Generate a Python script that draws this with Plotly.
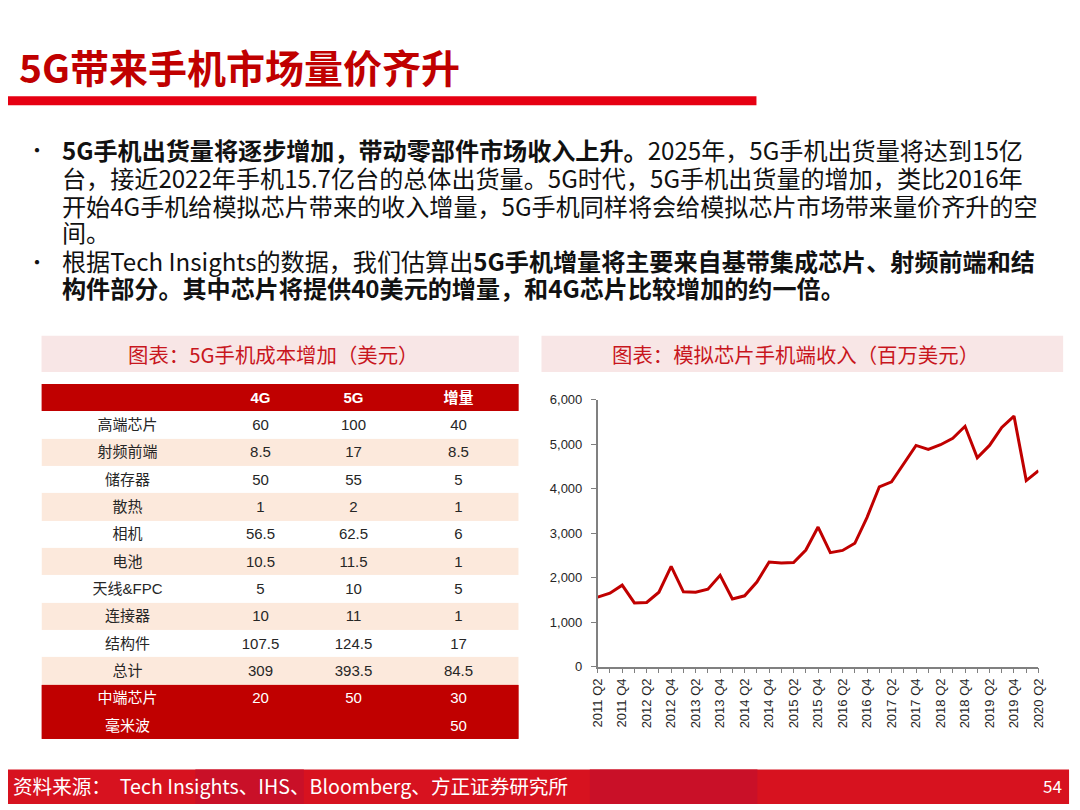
import plotly.graph_objects as go

# ---------------- data ----------------
items = ['高端芯片', '射频前端', '储存器', '散热', '相机', '电池', '天线&FPC', '连接器', '结构件', '总计', '中端芯片', '毫米波']
cost_4g = [60, 8.5, 50, 1, 56.5, 10.5, 5, 10, 107.5, 309, 20, None]
cost_5g = [100, 17, 55, 2, 62.5, 11.5, 10, 11, 124.5, 393.5, 50, None]
increase = [40, 8.5, 5, 1, 6, 1, 5, 1, 17, 84.5, 30, 50]
table_header = ['', '4G', '5G', '增量']

quarters = ['2011 Q2', '2011 Q3', '2011 Q4', '2012 Q1', '2012 Q2', '2012 Q3', '2012 Q4',
            '2013 Q1', '2013 Q2', '2013 Q3', '2013 Q4', '2014 Q1', '2014 Q2', '2014 Q3',
            '2014 Q4', '2015 Q1', '2015 Q2', '2015 Q3', '2015 Q4', '2016 Q1', '2016 Q2',
            '2016 Q3', '2016 Q4', '2017 Q1', '2017 Q2', '2017 Q3', '2017 Q4', '2018 Q1',
            '2018 Q2', '2018 Q3', '2018 Q4', '2019 Q1', '2019 Q2', '2019 Q3', '2019 Q4',
            '2020 Q1', '2020 Q2']
revenue = [1560, 1650, 1830, 1430, 1440, 1670, 2250, 1680, 1670, 1740, 2050, 1520, 1590,
           1900, 2350, 2330, 2340, 2620, 3135, 2560, 2610, 2770, 3355, 4040, 4150, 4570,
           4970, 4880, 4985, 5130, 5400, 4690, 4970, 5375, 5630, 4180, 4400]

W, H = 1080, 810
def px(x):
    return x / W
def py(y):
    return 1 - y / H

RED = '#C00000'
PEACH = '#FCE9DC'
CJK = 'Noto Sans CJK SC'
ARIAL = 'Liberation Sans, Noto Sans CJK SC'

def fmt(v):
    return '' if v is None else f'{v:g}'

fig = go.Figure()

# ---------------- table (heatmap cells) ----------------
# fill codes: 0 white, 1 peach, 2 red
n = len(items)
codes = [2]
for i in range(n):
    codes.append(2 if i >= n - 2 else (1 if i % 2 == 1 else 0))
rows_text = [table_header] + [[items[i].replace('&', '&amp;'), fmt(cost_4g[i]),
                               fmt(cost_5g[i]), fmt(increase[i])] for i in range(n)]
col_edges = [0, 174, 270, 362, 484]
row_edges = list(range(n + 2))

z_all = [[c] * 4 for c in codes]
text_dark = [[t if c != 2 else '' for t in r] for r, c in zip(rows_text, codes)]
z_red = [[c if c == 2 else None] * 4 for c in codes]
text_red = []
for k, (r, c) in enumerate(zip(rows_text, codes)):
    if c == 2:
        text_red.append(['<b>%s</b>' % t if (k == 0 and t) else t for t in r])
    else:
        text_red.append([''] * 4)

cscale = [[0, 'white'], [0.33, 'white'], [0.34, PEACH], [0.66, PEACH], [0.67, RED], [1, RED]]
fig.add_trace(go.Heatmap(
    z=z_all, x=col_edges, y=row_edges, text=text_dark, texttemplate='%{text}',
    textfont=dict(family=ARIAL, size=15, color='#262626'),
    colorscale=cscale, zmin=0, zmax=2, showscale=False, hoverinfo='skip',
    xaxis='x2', yaxis='y2',
))
fig.add_trace(go.Heatmap(
    z=z_red, x=col_edges, y=row_edges, text=text_red, texttemplate='%{text}',
    textfont=dict(family=ARIAL, size=15, color='white'),
    colorscale=cscale, zmin=0, zmax=2, showscale=False, hoverinfo='skip',
    xaxis='x2', yaxis='y2',
))

# ---------------- line chart ----------------
fig.add_trace(go.Scatter(
    x=quarters, y=revenue, mode='lines',
    line=dict(color=RED, width=3), cliponaxis=False,
    hoverinfo='x+y', showlegend=False,
))

fig.update_layout(
    width=W, height=H,
    margin=dict(l=0, r=0, t=0, b=0),
    paper_bgcolor='white', plot_bgcolor='white',
    showlegend=False,
    xaxis=dict(
        domain=[px(598), px(1045)], type='category',
        range=[0, len(quarters) - 1],
        tickmode='array', tickvals=quarters,
        ticktext=[q if i % 2 == 0 else '' for i, q in enumerate(quarters)],
        tickangle=-90, ticks='outside', ticklen=5, tickcolor='#808080',
        showline=True, linecolor='#808080', linewidth=1.5,
        showgrid=False, zeroline=False,
        tickfont=dict(family=ARIAL, size=13, color='#262626'),
        anchor='y',
    ),
    yaxis=dict(
        domain=[py(672), py(400)], range=[0, 6000], dtick=1000,
        tickformat=',d', ticks='outside', ticklen=5, tickcolor='#808080',
        showline=True, linecolor='#808080', linewidth=1.5,
        showgrid=False, zeroline=False,
        tickfont=dict(family=ARIAL, size=13, color='#262626'),
        ticklabelstandoff=6,
        anchor='x',
    ),
    xaxis2=dict(domain=[px(34), px(518)], range=[0, 484], visible=False,
                fixedrange=True, anchor='y2'),
    yaxis2=dict(domain=[py(746), py(384)], range=[n + 1, 0], visible=False,
                fixedrange=True, anchor='x2'),
)

shapes = [
    # red bar under title
    dict(type='rect', xref='paper', yref='paper', x0=px(0), x1=px(759), y0=py(100), y1=py(91),
         fillcolor='#E60012', line=dict(width=0)),
    # chart title boxes
    dict(type='rect', xref='paper', yref='paper', x0=px(34), x1=px(518), y0=py(372), y1=py(335),
         fillcolor='#F8E6E6', line=dict(width=0), layer='below'),
    dict(type='rect', xref='paper', yref='paper', x0=px(541), x1=px(1070), y0=py(372), y1=py(335),
         fillcolor='#F8E6E6', line=dict(width=0), layer='below'),
    # footer band
    dict(type='rect', xref='paper', yref='paper', x0=px(0), x1=px(1076), y0=py(812), y1=py(777),
         fillcolor='#D7121F', line=dict(width=0)),
    dict(type='rect', xref='paper', yref='paper', x0=px(190), x1=px(300), y0=py(812), y1=py(777),
         fillcolor='#C91028', line=dict(width=0)),
    dict(type='rect', xref='paper', yref='paper', x0=px(590), x1=px(760), y0=py(812), y1=py(777),
         fillcolor='#C91028', line=dict(width=0)),
]
fig.update_layout(shapes=shapes)

ann = []
def text(x, y, s, size, color='#111111', family=CJK, xanchor='left', yanchor='middle'):
    ann.append(dict(x=px(x), y=py(y), xref='paper', yref='paper', text=s, showarrow=False,
                    xanchor=xanchor, yanchor=yanchor, align='left',
                    font=dict(family=family, size=size, color=color)))

text(9, 60, '<b>5G带来手机市场量价齐升</b>', 39, color=RED)

lines = [
    '<b>5G手机出货量将逐步增加，带动零部件市场收入上升。</b>2025年，5G手机出货量将达到15亿',
    '台，接近2022年手机15.7亿台的总体出货量。5G时代，5G手机出货量的增加，类比2016年',
    '开始4G手机给模拟芯片带来的收入增量，5G手机同样将会给模拟芯片市场带来量价齐升的空',
    '间。',
    '根据Tech Insights的数据，我们估算出<b>5G手机增量将主要来自基带集成芯片、射频前端和结</b>',
    '<b>构件部分。其中芯片将提供40美元的增量，和4G芯片比较增加的约一倍。</b>',
]
ys = [145, 174, 202, 229, 258, 286]
for s, y in zip(lines, ys):
    text(53, y, s, 24.1)
text(17, 145, '•', 20)
text(17, 259, '•', 20)

text(269, 354, '图表：5G手机成本增加（美元）', 20.4, color='#C8161D', xanchor='center')
text(799, 354, '图表：模拟芯片手机端收入（百万美元）', 20.4, color='#C8161D', xanchor='center')

text(3, 793, '资料来源：  Tech Insights、IHS、Bloomberg、方正证券研究所', 19.6, color='white')
text(1071, 793, '54', 17, color='white', xanchor='right')

fig.update_layout(annotations=ann)

fig.write_html(
    'out.html',
    config={'displayModeBar': False},
    post_script=("document.documentElement.style.margin='0';"
                 "document.documentElement.style.overflow='hidden';"
                 "document.body.style.margin='0';"
                 "document.body.style.overflow='hidden';"),
)
